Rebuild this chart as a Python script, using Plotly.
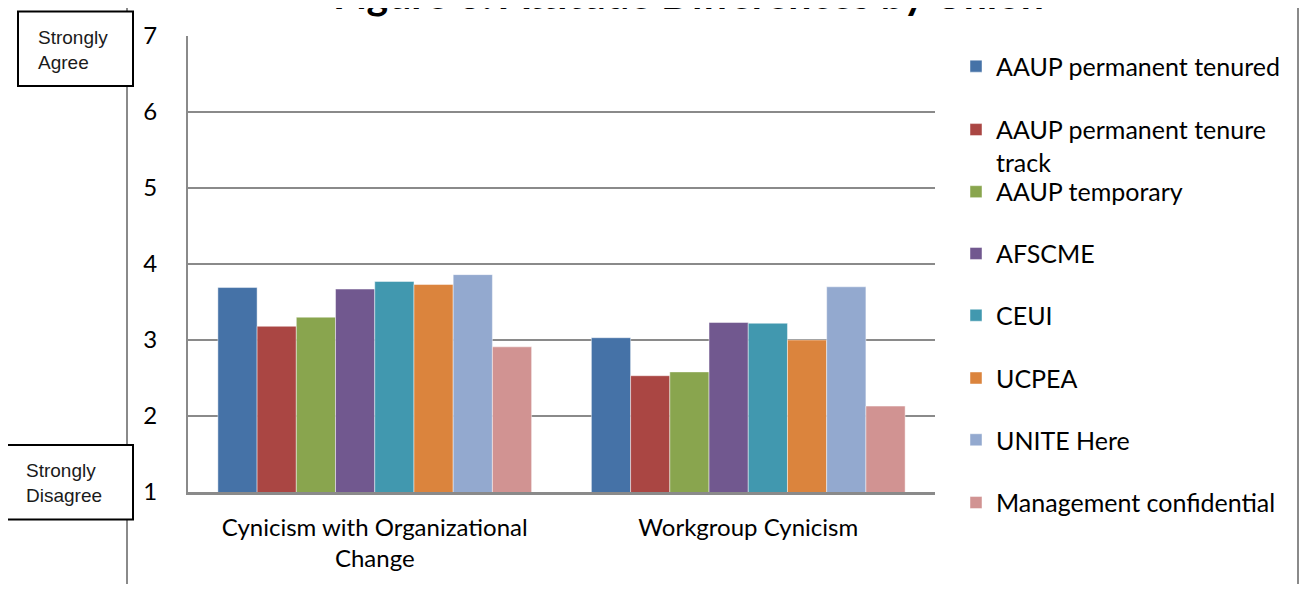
import plotly.graph_objects as go

categories = ["Cynicism with Organizational<br>Change", "Workgroup Cynicism"]
series_names = [
    "AAUP permanent tenured",
    "AAUP permanent tenure<br>track",
    "AAUP temporary",
    "AFSCME",
    "CEUI",
    "UCPEA",
    "UNITE Here",
    "Management confidential",
]
org_change = [3.69, 3.18, 3.30, 3.67, 3.77, 3.73, 3.86, 2.91]
workgroup = [3.03, 2.53, 2.58, 3.23, 3.22, 3.00, 3.70, 2.13]
colors = ["#4572A7", "#AA4643", "#89A54E", "#71588F", "#4198AF", "#DB843D", "#93A9CF", "#D19392"]
y_ticks = [1, 2, 3, 4, 5, 6, 7]

OFF = 8  # page body margin
W, H = 1308 - 2 * OFF, 592 - 2 * OFF
# plot area in screen pixels
L, R, T, B = 188, 935, 30, 495


def px(x):
    return (x - L) / (R - L)


def py(y):
    return (B - y) / (B - T)


FONT = "Lato"
fig = go.Figure()
legend_ids = ["legend"] + [f"legend{i}" for i in range(2, 9)]
for i, name in enumerate(series_names):
    fig.add_trace(go.Bar(
        x=categories,
        y=[org_change[i], workgroup[i]],
        name=name,
        marker=dict(color=colors[i], line=dict(color="rgba(255,255,255,0.45)", width=1)),
        legend=legend_ids[i],
    ))

legend_centers = [61, 142, 189, 252, 315, 379, 442, 506]
layout_legends = {}
for i, lid in enumerate(legend_ids):
    layout_legends[lid] = dict(
        x=px(956), xanchor="left",
        y=py(legend_centers[i]), yanchor="middle",
        bgcolor="rgba(0,0,0,0)", borderwidth=0,
        font=dict(family=FONT, size=25, color="#000000"),
        valign="top",
    )

fig.update_layout(
    width=W, height=H,
    margin=dict(l=L - OFF, r=W - (R - OFF), t=T - OFF, b=H - (B - OFF), pad=0),
    paper_bgcolor="white", plot_bgcolor="white",
    barmode="group", bargap=0.16, bargroupgap=0,
    showlegend=True,
    font=dict(family=FONT, size=24, color="#000000"),
    **layout_legends,
)

fig.update_yaxes(
    range=[1, 7], tickvals=y_ticks, ticktext=[str(v) for v in y_ticks],
    showgrid=True, gridcolor="#8a8a8a", gridwidth=2,
    showline=True, linecolor="#8a8a8a", linewidth=2,
    ticks="", ticklabelstandoff=24, zeroline=False,
    tickfont=dict(family=FONT, size=24, color="#000000"),
)
fig.update_xaxes(
    showline=True, linecolor="#8a8a8a", linewidth=3,
    ticks="", ticklabelstandoff=12,
    tickfont=dict(family=FONT, size=24, color="#000000"),
)

# title (cropped at the top of the image)
fig.add_annotation(
    text="<b>Figure 3: Attitude Differences by Union</b>",
    xref="paper", yref="paper", x=px(688), y=py(14),
    xanchor="center", yanchor="bottom", showarrow=False,
    font=dict(family=FONT, size=41, color="#000000"),
)

# outer frame lines
for xl in (127, 1298):
    fig.add_shape(type="line", xref="paper", yref="paper",
                  x0=px(xl), x1=px(xl), y0=py(0), y1=py(600),
                  line=dict(color="#8a8a8a", width=2), layer="below")

# Strongly Agree / Strongly Disagree boxes
boxes = [
    (18, 5, 133, 81, 36, 44, "Strongly<br>Agree"),
    (7, 447, 133, 523, 24, 486, "Strongly<br>Disagree"),
]
for x0, y0, x1, y1, tx, ty, txt in boxes:
    fig.add_shape(type="rect", xref="paper", yref="paper",
                  x0=px(x0), x1=px(x1), y0=py(y1), y1=py(y0),
                  line=dict(color="#000000", width=2), fillcolor="white", layer="above")
    fig.add_annotation(text=txt, xref="paper", yref="paper", x=px(tx), y=py(ty),
                       xanchor="left", yanchor="middle", align="left", showarrow=False,
                       font=dict(family="Liberation Sans", size=19, color="#1a1a1a"))

fig.write_html("out.html")
